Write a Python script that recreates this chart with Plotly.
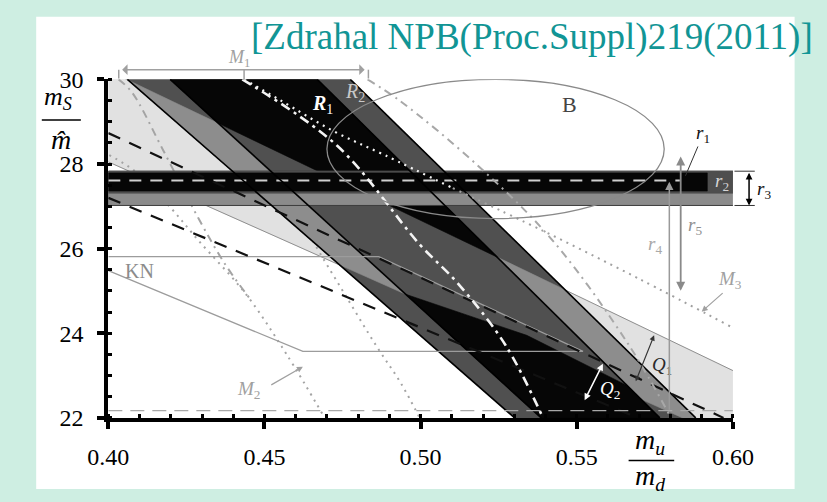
import plotly.graph_objects as go

SERIF = "Liberation Serif"

# ---- axis windows and ticks ----
X_RANGE = [0.40, 0.60]
Y_RANGE = [22.0, 30.0]
X_TICKS = [0.40, 0.45, 0.50, 0.55, 0.60]
X_TICK_TEXT = ["0.40", "0.45", "0.50", "0.55", "0.60"]
Y_TICKS = [22, 24, 26, 28, 30]
Y_TICK_TEXT = ["22", "24", "26", "28", "30"]

# ---- light band (between the two thin boundary lines) ----
LIGHT_X = [0.400, 0.6005, 0.6005, 0.5839, 0.400]
LIGHT_Y = [30.21, 23.10, 22.00, 22.00, 28.05]
LUP_X, LUP_Y = [0.400, 0.6005], [30.21, 23.10]
LLOW_X, LLOW_Y = [0.400, 0.5839], [28.05, 22.00]

# ---- diagonal R bands: edge lines at y = 30 (top) and y = 22 (bottom) ----
EDGE_TOP = [0.4061, 0.4198, 0.4669, 0.4775]
EDGE_BOT = [0.5301, 0.5386, 0.5766, 0.5881]

# overlap of the outer strips with the light band
MED_L_X = [0.4065, 0.4354, 0.4952, 0.4740]
MED_L_Y = [29.975, 28.955, 24.922, 25.617]
MED_R_X = [0.5246, 0.5462, 0.5881, 0.5839, 0.5705]
MED_R_Y = [25.796, 25.029, 22.00, 22.00, 22.444]

# inner strip outside the light band
BLK_U_X = [0.4198, 0.4669, 0.5246, 0.4354]
BLK_U_Y = [30.0, 30.0, 25.796, 28.955]
BLK_L_X = [0.4952, 0.5340, 0.5662, 0.5766, 0.5386]
BLK_L_Y = [24.922, 23.951, 22.762, 22.00, 22.00]

# ---- horizontal r bands ----
R3_X, R3_Y = [0.400, 0.6005], [27.02, 27.83]
R2_X, R2_Y = [0.400, 0.6005], [27.31, 27.83]
R1_X, R1_Y = [0.400, 0.5918], [27.36, 27.79]
R_MID_X, R_MID_Y = [0.400, 0.583], 27.61
FLOOR_X, FLOOR_Y = [0.400, 0.600], 22.17

# ---- KN region outline ----
KN_X = [0.400, 0.4866, 0.5520, 0.4623, 0.400]
KN_Y = [25.81, 25.81, 23.57, 23.57, 25.48]

# ---- black dashed lines ----
D1_X, D1_Y = [0.400, 0.5970], [28.73, 22.00]
D2_X, D2_Y = [0.400, 0.5696], [27.20, 22.00]

# ---- white dash-dot curve ----
W1_X = [0.4429, 0.4733, 0.4997, 0.5119, 0.5271, 0.5392]
W1_Y = [30.00, 28.43, 26.10, 25.18, 23.73, 22.00]

# ---- M3 dotted curve (inner white part, outer grey part) ----
M3_IN_X = [0.4435, 0.4550, 0.4723, 0.4885, 0.5103]
M3_IN_Y = [30.00, 29.51, 28.77, 28.21, 27.43]
M3_OUT_X = [0.5103, 0.5392, 0.5696, 0.6000]
M3_OUT_Y = [27.43, 26.42, 25.30, 24.13]

# ---- M1 boundaries and M2 curves ----
M1R_X = [0.4830, 0.4936, 0.5179, 0.5423, 0.5666, 0.5802]
M1R_Y = [30.00, 29.48, 27.99, 26.19, 23.73, 22.00]
M1L_X = [0.4033, 0.4076, 0.4176, 0.4289, 0.4374, 0.4450]
M1L_Y = [30.00, 29.69, 28.32, 26.71, 25.63, 24.85]
M2A_X = [0.4003, 0.4085, 0.4198, 0.4289, 0.4441, 0.4571, 0.4693]
M2A_Y = [28.21, 27.83, 26.98, 26.19, 24.92, 23.50, 22.00]
M2B_X = [0.4547, 0.4602, 0.4654, 0.4754, 0.4860, 0.4936, 0.4997]
M2B_Y = [27.43, 26.87, 26.19, 24.96, 23.68, 22.83, 22.00]

# ---- ellipse B (bounding box) ----
B_X = [0.470, 0.578]
B_Y = [26.71, 30.00]

fig = go.Figure()


def poly(xs, ys, color):
    fig.add_trace(go.Scatter(
        x=list(xs) + [xs[0]], y=list(ys) + [ys[0]], mode="lines",
        fill="toself", fillcolor=color, line=dict(color=color, width=0.6),
        hoverinfo="skip", showlegend=False))


def rect(xs, ys, color, edge=None):
    fig.add_trace(go.Scatter(
        x=[xs[0], xs[1], xs[1], xs[0], xs[0]],
        y=[ys[0], ys[0], ys[1], ys[1], ys[0]], mode="lines",
        fill="toself", fillcolor=color,
        line=dict(color=edge or color, width=1 if edge else 0.6),
        hoverinfo="skip", showlegend=False))


def curve(xs, ys, color, width, dash="solid", smooth=False):
    fig.add_trace(go.Scatter(
        x=xs, y=ys, mode="lines",
        line=dict(color=color, width=width, dash=dash,
                  shape="spline" if smooth else "linear"),
        hoverinfo="skip", showlegend=False))


DOT = "2px,5px"
DASHDOT_G = "8px,5px,2px,5px"

# light band and its boundaries
poly(LIGHT_X, LIGHT_Y, "#e1e1e1")
curve(LUP_X, LUP_Y, "#8e8e8e", 1)
curve(LLOW_X, LLOW_Y, "#8e8e8e", 1)

# grey curves that pass under the R bands
curve(M2A_X, M2A_Y, "#a4a4a4", 2, DOT, True)
curve(M1L_X, M1L_Y, "#a4a4a4", 2, DASHDOT_G, True)
curve(M2B_X, M2B_Y, "#a4a4a4", 2, DOT, True)

# R bands
poly([EDGE_TOP[0], EDGE_TOP[3], EDGE_BOT[3], EDGE_BOT[0]], [30, 30, 22, 22], "#505050")
poly(MED_L_X, MED_L_Y, "#8d8d8d")
poly(MED_R_X, MED_R_Y, "#8d8d8d")
poly(BLK_U_X, BLK_U_Y, "#060606")
poly(BLK_L_X, BLK_L_Y, "#060606")

# horizontal r bands
rect(R3_X, R3_Y, "#8b8b8b", "#3c3c3c")
rect(R2_X, R2_Y, "#4e4e4e")
rect(R1_X, R1_Y, "#060606")
curve(R_MID_X, [R_MID_Y, R_MID_Y], "#cfcfcf", 2, "12px,9px")

# band edge lines
for xt, xb in zip(EDGE_TOP, EDGE_BOT):
    curve([xt, xb], [30, 22], "#000000", 1.6)

# outlines and reference lines on top
curve(KN_X, KN_Y, "#9c9c9c", 1.3)
curve(D1_X, D1_Y, "#111111", 2.2, "13px,10px")
curve(D2_X, D2_Y, "#111111", 2.2, "13px,10px")
curve(M1R_X, M1R_Y, "#a8a8a8", 2, DASHDOT_G, True)
curve(M3_OUT_X, M3_OUT_Y, "#a0a0a0", 2, DOT, True)
curve(M3_IN_X, M3_IN_Y, "#f4f4f4", 2.2, DOT, True)
curve(W1_X, W1_Y, "#f4f4f4", 2.6, "10px,5px,3px,5px", True)
curve(FLOOR_X, [FLOOR_Y, FLOOR_Y], "#a8a8a8", 1.3, "14px,8px")

# empty trace that instantiates the full-page overlay axes
fig.add_trace(go.Scatter(x=[], y=[], xaxis="x2", yaxis="y2",
                         hoverinfo="skip", showlegend=False))

# ---- layout geometry: plot window inside an 827 x 502 page ----
W, H = 827, 502
DOM_X = [92 / W, 750 / W]
DOM_Y = [75 / H, 432 / H]
sx = (X_RANGE[1] - X_RANGE[0]) / (DOM_X[1] - DOM_X[0])
sy = (Y_RANGE[1] - Y_RANGE[0]) / (DOM_Y[1] - DOM_Y[0])
X2_RANGE = [X_RANGE[0] - DOM_X[0] * sx, X_RANGE[0] + (1 - DOM_X[0]) * sx]
Y2_RANGE = [Y_RANGE[0] - DOM_Y[0] * sy, Y_RANGE[0] + (1 - DOM_Y[0]) * sy]


def text(x, y, s, color, size=18, **kw):
    return dict(xref="x2", yref="y2", x=x, y=y, text=s, showarrow=False,
                font=dict(family=SERIF, size=size, color=color), **kw)


def arrow(x0, y0, x1, y1, color, width, both=False, head=2, size=1.0):
    return dict(xref="x2", yref="y2", axref="x2", ayref="y2",
                x=x1, y=y1, ax=x0, ay=y0, text="", showarrow=True,
                arrowhead=head, startarrowhead=head, arrowsize=size,
                startarrowsize=size,
                arrowside="end+start" if both else "end",
                arrowwidth=width, arrowcolor=color, standoff=0, startstandoff=0)


annotations = [
    text(0.4450, 31.00, "[Zdrahal NPB(Proc.Suppl)219(2011)]", "#119595", 37,
         xanchor="left"),
    # axis titles
    text(0.3838, 29.55, "<i>m</i><sub><i>S</i></sub>", "#000000", 26),
    text(0.3848, 28.57, "<i>m\u0302</i>", "#000000", 28),
    text(0.5736, 21.44, "<i>m</i><sub><i>u</i></sub>", "#000000", 28),
    text(0.5736, 20.59, "<i>m</i><sub><i>d</i></sub>", "#000000", 28),
    # region labels
    text(0.4420, 30.50, "<i>M</i><sub>1</sub>", "#a0a0a0", 18),
    text(0.4687, 29.40, "<i><b>R</b></i><sub>1</sub>", "#ffffff", 20),
    text(0.4790, 29.69, "<i>R</i><sub>2</sub>", "#c8c8c8", 20),
    text(0.5477, 29.40, "B", "#444444", 22),
    text(0.5903, 28.70, "<i>r</i><sub>1</sub>", "#111111", 19),
    text(0.5964, 27.58, "<i>r</i><sub>2</sub>", "#d4d4d4", 19),
    text(0.6100, 27.38, "<i>r</i><sub>3</sub>", "#111111", 19),
    text(0.5751, 26.08, "<i>r</i><sub>4</sub>", "#a8a8a8", 19),
    text(0.5878, 26.53, "<i>r</i><sub>5</sub>", "#909090", 19),
    text(0.5991, 25.25, "<i>M</i><sub>3</sub>", "#a0a0a0", 19),
    text(0.4450, 22.65, "<i>M</i><sub>2</sub>", "#a0a0a0", 19),
    text(0.4100, 25.48, "KN", "#8c8c8c", 20),
    text(0.5772, 23.23, "<i>Q</i><sub>1</sub>", "#2a2a2a", 19),
    text(0.5605, 22.65, "<i>Q</i><sub>2</sub>", "#ffffff", 19),
    # pointers and measuring arrows
    arrow(0.40395, 30.229, 0.48207, 30.229, "#a0a0a0", 1.5, both=True, head=1, size=1.2),
    arrow(0.5890, 28.45, 0.5848, 27.72, "#333333", 1, head=0),
    arrow(0.60517, 27.83, 0.60517, 27.022, "#000000", 1.5, both=True, size=0.9),
    arrow(0.57964, 22.157, 0.57964, 27.583, "#9a9a9a", 1.5, size=1.1),
    arrow(0.58328, 28.211, 0.58328, 25.004, "#8a8a8a", 1.8, both=True, size=1.0),
    arrow(0.5972, 24.98, 0.5900, 24.51, "#a0a0a0", 1.2, size=1.0),
    arrow(0.4517, 22.76, 0.4623, 23.21, "#a0a0a0", 1.2, size=1.0),
    arrow(0.56869, 22.83, 0.57477, 23.951, "#333333", 1.2, both=True, size=0.9),
    arrow(0.55228, 22.381, 0.55836, 23.278, "#ffffff", 1.5, both=True, size=0.9),
]

shapes = [
    # white page panel on the mint surround
    dict(type="rect", xref="paper", yref="paper", x0=16 / W, x1=815 / W,
         y0=0, y1=1 - 4 / H, fillcolor="#ffffff", line=dict(width=0),
         layer="below"),
    # ellipse B
    dict(type="circle", xref="x", yref="y", x0=B_X[0], x1=B_X[1],
         y0=B_Y[0], y1=B_Y[1], line=dict(color="#8a8a8a", width=1.3),
         layer="above"),
    # fraction bars of the axis titles
    dict(type="line", xref="x2", yref="y2", x0=0.3787, x1=0.3912,
         y0=29.04, y1=29.04, line=dict(color="#000000", width=1.5)),
    dict(type="line", xref="x2", yref="y2", x0=0.5666, x1=0.5812,
         y0=20.99, y1=20.99, line=dict(color="#000000", width=1.5)),
    # M1 bracket tick and end hooks
    dict(type="line", xref="x2", yref="y2", x0=0.44347, x1=0.44347,
         y0=30.229, y1=30.0, line=dict(color="#a0a0a0", width=1.5)),
    dict(type="line", xref="x2", yref="y2", x0=0.40334, x1=0.40334,
         y0=30.229, y1=30.02, line=dict(color="#a0a0a0", width=1.5)),
    dict(type="line", xref="x2", yref="y2", x0=0.48328, x1=0.48328,
         y0=30.229, y1=30.02, line=dict(color="#a0a0a0", width=1.5)),
    # r3 end caps
    dict(type="line", xref="x2", yref="y2", x0=0.6005, x1=0.6070,
         y0=27.83, y1=27.83, line=dict(color="#333333", width=1)),
    dict(type="line", xref="x2", yref="y2", x0=0.6005, x1=0.6070,
         y0=27.02, y1=27.02, line=dict(color="#333333", width=1)),
]

axis_font = dict(family=SERIF, size=24, color="#000000")
fig.update_layout(
    width=W, height=H, margin=dict(l=0, r=0, t=0, b=0),
    paper_bgcolor="#ceeee2", plot_bgcolor="rgba(0,0,0,0)",
    showlegend=False,
    xaxis=dict(domain=DOM_X, range=X_RANGE, anchor="y",
               tickvals=X_TICKS, ticktext=X_TICK_TEXT, tickfont=axis_font,
               showline=True, linewidth=4, linecolor="#000000",
               ticks="outside", ticklen=7, tickwidth=4, tickcolor="#000000",
               ticklabelstandoff=7,
               minor=dict(dtick=0.01, ticks="inside", ticklen=4, tickwidth=3,
                          tickcolor="#000000"),
               showgrid=False, zeroline=False, layer="above traces",
               fixedrange=True),
    yaxis=dict(domain=DOM_Y, range=Y_RANGE, anchor="x",
               tickvals=Y_TICKS, ticktext=Y_TICK_TEXT, tickfont=axis_font,
               showline=True, linewidth=4, linecolor="#000000",
               ticks="outside", ticklen=7, tickwidth=4, tickcolor="#000000",
               ticklabelstandoff=9,
               minor=dict(dtick=0.5, ticks="inside", ticklen=4, tickwidth=3,
                          tickcolor="#000000"),
               showgrid=False, zeroline=False, layer="above traces",
               fixedrange=True),
    xaxis2=dict(domain=[0, 1], range=X2_RANGE, anchor="y2", visible=False,
                fixedrange=True),
    yaxis2=dict(domain=[0, 1], range=Y2_RANGE, anchor="x2", visible=False,
                fixedrange=True),
    annotations=annotations,
    shapes=shapes,
)

fig.write_html("out.html", config={"displayModeBar": False})
